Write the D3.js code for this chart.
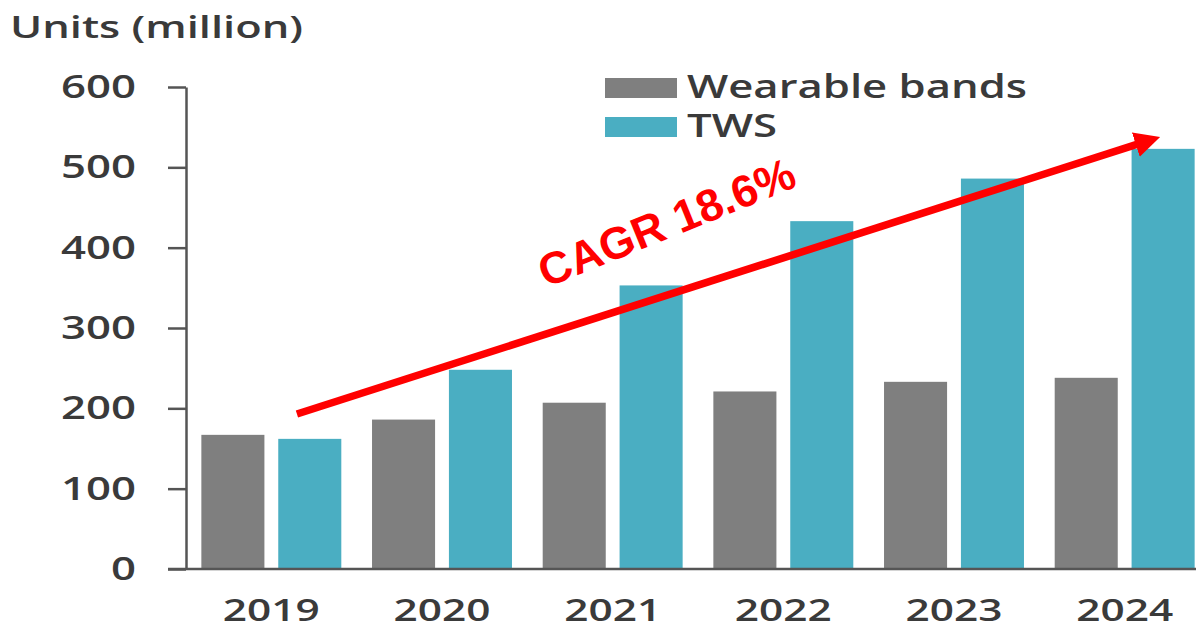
<!DOCTYPE html>
<html>
<head>
<meta charset="utf-8">
<script src="https://cdn.jsdelivr.net/npm/d3@7"></script>
<style>
  body { margin: 0; background: #fff; }
  text { font-family: "Open Sans", "Noto Sans", sans-serif; }
</style>
</head>
<body>
<div id="chart"></div>
<script>
// data
var years = ["2019", "2020", "2021", "2022", "2023", "2024"];
var series = ["Wearable bands", "TWS"];
var bands = [167, 186, 207, 221, 233, 238];
var tws = [162, 248, 353, 433, 486, 523];
var yTicks = [0, 100, 200, 300, 400, 500, 600];
var colors = ["#7f7f7f", "#4aaec2"];
var cagrLabel = "CAGR 18.6%";

var width = 1196, height = 631;
var textColor = "#3a3a3a";

var svg = d3.select("#chart").append("svg")
    .attr("width", width)
    .attr("height", height);

// scales
var x0 = d3.scaleBand()
    .domain(years)
    .range([186, 1210])
    .paddingInner(0.18)
    .paddingOuter(0.09);

var x1 = d3.scaleBand()
    .domain(series)
    .range([0, x0.bandwidth()])
    .paddingInner(0.18);

var y = d3.scaleLinear()
    .domain([0, 600])
    .range([569, 87]);

// index scale for the arrow (category centres)
var xi = d3.scaleLinear()
    .domain([0, years.length - 1])
    .range([x0(years[0]) + x0.bandwidth() / 2, x0(years[years.length - 1]) + x0.bandwidth() / 2]);

// bars
var rows = years.map(function(yr, i) { return {year: yr, values: [bands[i], tws[i]]}; });

var groups = svg.selectAll(".grp")
    .data(rows)
  .enter().append("g")
    .attr("class", "grp")
    .attr("transform", function(d) { return "translate(" + x0(d.year) + ",0)"; });

groups.selectAll("rect")
    .data(function(d) { return d.values.map(function(v, j) { return {s: series[j], v: v, j: j}; }); })
  .enter().append("rect")
    .attr("x", function(d) { return x1(d.s); })
    .attr("y", function(d) { return y(d.v); })
    .attr("width", x1.bandwidth())
    .attr("height", function(d) { return y(0) - y(d.v); })
    .style("fill", function(d) { return colors[d.j]; });

// y axis
var yAxis = svg.append("g")
    .attr("transform", "translate(186,0)")
    .call(d3.axisLeft(y).tickValues(yTicks).tickSize(18).tickPadding(10).tickSizeOuter(0));
yAxis.select(".domain").attr("stroke", "#555").attr("stroke-width", 2.5);
yAxis.selectAll(".tick line").attr("stroke", "#555").attr("stroke-width", 2.5);
yAxis.selectAll(".tick text")
    .attr("x", -50)
    .style("font-size", "33px")
    .style("font-weight", 600)
    .attr("fill", textColor)
    .attr("textLength", function(d) { return String(d).length * 25; })
    .attr("lengthAdjust", "spacingAndGlyphs");

// x baseline
svg.append("line")
    .attr("x1", 168).attr("x2", width)
    .attr("y1", y(0)).attr("y2", y(0))
    .attr("stroke", "#555").attr("stroke-width", 2.5);

// x labels
svg.selectAll(".xlab")
    .data(years)
  .enter().append("text")
    .attr("class", "xlab")
    .attr("x", function(d) { return x0(d) + x0.bandwidth() / 2; })
    .attr("y", 621)
    .attr("text-anchor", "middle")
    .attr("textLength", 97)
    .attr("lengthAdjust", "spacingAndGlyphs")
    .style("font-size", "30px")
    .style("font-weight", 600)
    .attr("fill", textColor)
    .text(function(d) { return d; });

// axis title
svg.append("text")
    .attr("x", 10)
    .attr("y", 38)
    .attr("textLength", 293)
    .attr("lengthAdjust", "spacingAndGlyphs")
    .style("font-size", "30px")
    .style("font-weight", 600)
    .attr("fill", textColor)
    .text("Units (million)");

// legend
var legend = svg.selectAll(".leg")
    .data(series)
  .enter().append("g")
    .attr("class", "leg")
    .attr("transform", function(d, i) { return "translate(605," + (78 + i * 39) + ")"; });
legend.append("rect")
    .attr("width", 72).attr("height", 20)
    .style("fill", function(d, i) { return colors[i]; });
legend.append("text")
    .attr("x", 82).attr("y", 20)
    .attr("textLength", function(d, i) { return i === 0 ? 340 : 90; })
    .attr("lengthAdjust", "spacingAndGlyphs")
    .style("font-size", "32px")
    .style("font-weight", 600)
    .attr("fill", textColor)
    .text(function(d) { return d; });

// CAGR arrow
var a0 = {i: 0.15, v: 193}, a1 = {i: 5.21, v: 538};
var defs = svg.append("defs");
defs.append("marker")
    .attr("id", "head")
    .attr("viewBox", "0 0 10 10")
    .attr("refX", 2).attr("refY", 5)
    .attr("markerWidth", 3.4).attr("markerHeight", 3.4)
    .attr("markerUnits", "strokeWidth")
    .attr("orient", "auto")
  .append("path")
    .attr("d", "M0,0L10,5L0,10Z")
    .attr("fill", "#ff0000");

var ax0 = xi(a0.i), ay0 = y(a0.v), ax1 = xi(a1.i), ay1 = y(a1.v);
var ang = Math.atan2(ay1 - ay0, ax1 - ax0);
var headLen = 26;
svg.append("line")
    .attr("x1", ax0).attr("y1", ay0)
    .attr("x2", ax1 - Math.cos(ang) * headLen * 0.8)
    .attr("y2", ay1 - Math.sin(ang) * headLen * 0.8)
    .attr("stroke", "#ff0000")
    .attr("stroke-width", 7.5)
    .attr("marker-end", "url(#head)");

svg.append("text")
    .attr("transform", "translate(546,288) rotate(-22)")
    .style("font-family", "'Liberation Sans', Arial, sans-serif")
    .style("font-size", "45px")
    .style("font-weight", "bold")
    .attr("fill", "#ff0000")
    .text(cagrLabel);
</script>
</body>
</html>
